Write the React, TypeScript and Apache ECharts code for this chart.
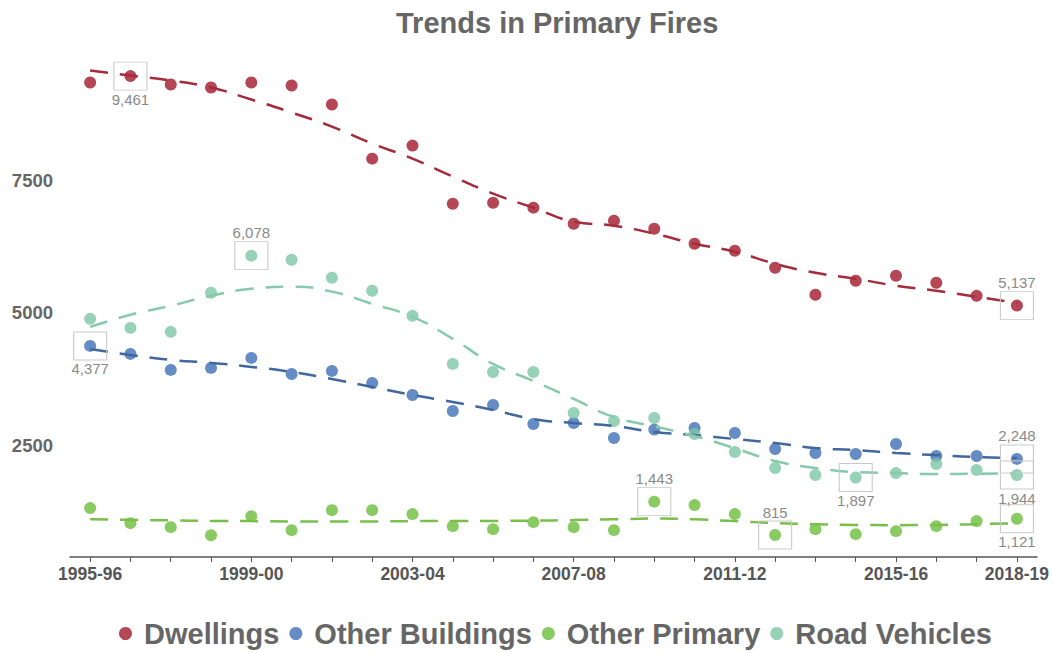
import React, { useEffect, useRef } from "react";
import * as echarts from "echarts";

const categories = [
  "1995-96", "1996-97", "1997-98", "1998-99", "1999-00", "2000-01", "2001-02", "2002-03",
  "2003-04", "2004-05", "2005-06", "2006-07", "2007-08", "2008-09", "2009-10", "2010-11",
  "2011-12", "2012-13", "2013-14", "2014-15", "2015-16", "2016-17", "2017-18", "2018-19",
];

const dwellings = [9340, 9461, 9303, 9246, 9340, 9284, 8925, 7906, 8152, 7057, 7076, 6982, 6680, 6737, 6586, 6303, 6170, 5850, 5340, 5604, 5699, 5567, 5321, 5137];
const otherBuildings = [4377, 4227, 3925, 3963, 4151, 3849, 3906, 3680, 3453, 3151, 3265, 2906, 2925, 2642, 2800, 2830, 2736, 2434, 2359, 2340, 2528, 2302, 2302, 2248];
const otherPrimary = [1321, 1038, 962, 811, 1170, 906, 1283, 1283, 1208, 981, 925, 1057, 962, 906, 1443, 1378, 1208, 815, 925, 830, 887, 981, 1076, 1121];
const roadVehicles = [4887, 4717, 4642, 5378, 6078, 6000, 5661, 5416, 4944, 4038, 3887, 3887, 3113, 2962, 3019, 2717, 2378, 2076, 1944, 1897, 1981, 2151, 2038, 1944];

const dwellingsTrend = [9567, 9472, 9378, 9246, 9020, 8774, 8510, 8190, 7906, 7567, 7246, 6982, 6718, 6642, 6491, 6303, 6152, 5925, 5755, 5642, 5510, 5416, 5302, 5189];
const otherBuildingsTrend = [4321, 4208, 4114, 4057, 3982, 3887, 3755, 3604, 3453, 3321, 3170, 3000, 2925, 2868, 2755, 2698, 2623, 2547, 2453, 2415, 2359, 2321, 2283, 2264];
const otherPrimaryTrend = [1113, 1100, 1090, 1080, 1076, 1070, 1070, 1070, 1076, 1076, 1080, 1085, 1095, 1110, 1125, 1110, 1076, 1040, 1019, 1005, 1000, 1005, 1019, 1038];
const roadVehiclesTrend = [4736, 4963, 5133, 5321, 5453, 5491, 5400, 5170, 4925, 4510, 4038, 3717, 3378, 3038, 2860, 2680, 2450, 2208, 2076, 2000, 1981, 1962, 1970, 1981];

const yTicks = [2500, 5000, 7500];

// [category index, label position]
const dwellingsMarks: [number, string][] = [[1, "bottom"], [23, "top"]];
const otherBuildingsMarks: [number, string][] = [[0, "bottom"], [23, "top"]];
const otherPrimaryMarks: [number, string][] = [[14, "top"], [17, "top"], [23, "bottom"]];
const roadVehiclesMarks: [number, string][] = [[4, "top"], [19, "bottom"], [23, "bottom"]];

const names = ["Dwellings", "Other Buildings", "Other Primary", "Road Vehicles"];
const colors = ["#a3182c", "#3f6fb5", "#6cbd3c", "#7cc6a6"];
const lineColors = ["#a52a3a", "#41679f", "#78c04a", "#86c9ab"];

export default function App() {
  const ref = useRef<HTMLDivElement>(null);
  useEffect(() => {
    if (!ref.current) return;
    const chart = echarts.init(ref.current, null, { renderer: "svg" });
    const values = [dwellings, otherBuildings, otherPrimary, roadVehicles];
    const trends = [dwellingsTrend, otherBuildingsTrend, otherPrimaryTrend, roadVehiclesTrend];
    const marks = [dwellingsMarks, otherBuildingsMarks, otherPrimaryMarks, roadVehiclesMarks];
    const fmt = (v: number) => v.toLocaleString("en-US");
    const series: any[] = [];
    names.forEach((name, k) => {
      series.push({
        name,
        type: "scatter",
        data: values[k],
        symbol: "circle",
        symbolSize: 12,
        itemStyle: { color: colors[k] },
        z: 2,
        markPoint: {
          symbol: "rect",
          symbolSize: [33, 28],
          silent: true,
          itemStyle: { color: "rgba(0,0,0,0)", borderColor: "#c9c9c9", borderWidth: 1 },
          data: marks[k].map(([i, pos]) => ({
            coord: [i, values[k][i]],
            value: values[k][i],
            label: { position: pos },
          })),
          label: {
            show: true,
            formatter: (p: any) => fmt(p.value),
            color: "#8a8a8a",
            fontSize: 15,
            fontFamily: "Liberation Sans, Arial, sans-serif",
            distance: 1,
          },
        },
      });
      series.push({
        name: name + " trend",
        type: "line",
        data: trends[k],
        smooth: true,
        showSymbol: false,
        symbol: "none",
        lineStyle: { color: lineColors[k], width: 2.5, type: [18, 12] },
        z: 3,
        silent: true,
      });
    });

    chart.setOption({
      animation: false,
      textStyle: { fontFamily: "Liberation Sans, Arial, sans-serif" },
      title: {
        text: "Trends in Primary Fires",
        left: 391,
        top: 3,
        textStyle: { fontSize: 29, fontWeight: "bold", color: "#666" },
      },
      legend: {
        data: names,
        left: 114,
        top: 614,
        icon: "circle",
        itemWidth: 27,
        itemHeight: 13,
        itemGap: 10,
        textStyle: { fontSize: 29, fontWeight: "bold", color: "#666" },
      },
      grid: { left: 70, right: 14, top: 47.5, bottom: 96 },
      xAxis: {
        type: "category",
        data: categories,
        boundaryGap: true,
        axisLine: { lineStyle: { color: "#555", width: 1.5 } },
        axisTick: { show: true, interval: 0, alignWithLabel: true, length: 5, lineStyle: { color: "#555" } },
        axisLabel: {
          interval: (i: number) => i % 4 === 0 || i === categories.length - 1,
          fontSize: 17.5,
          fontWeight: "bold",
          color: "#555",
          margin: 8,
        },
        splitLine: { show: false },
      },
      yAxis: {
        type: "value",
        min: 400,
        max: 10000,
        axisLine: { show: false },
        axisTick: { show: false },
        splitLine: { show: false },
        axisLabel: {
          customValues: yTicks,
          formatter: (v: number) => String(v),
          fontSize: 18.5,
          fontWeight: "bold",
          color: "#666",
          margin: 17,
        },
      },
      series,
    });
    return () => chart.dispose();
  }, []);
  return (
    <div
      ref={ref}
      style={{ position: "fixed", left: 0, top: 0, width: 1052, height: 653, background: "#fff" }}
    />
  );
}
